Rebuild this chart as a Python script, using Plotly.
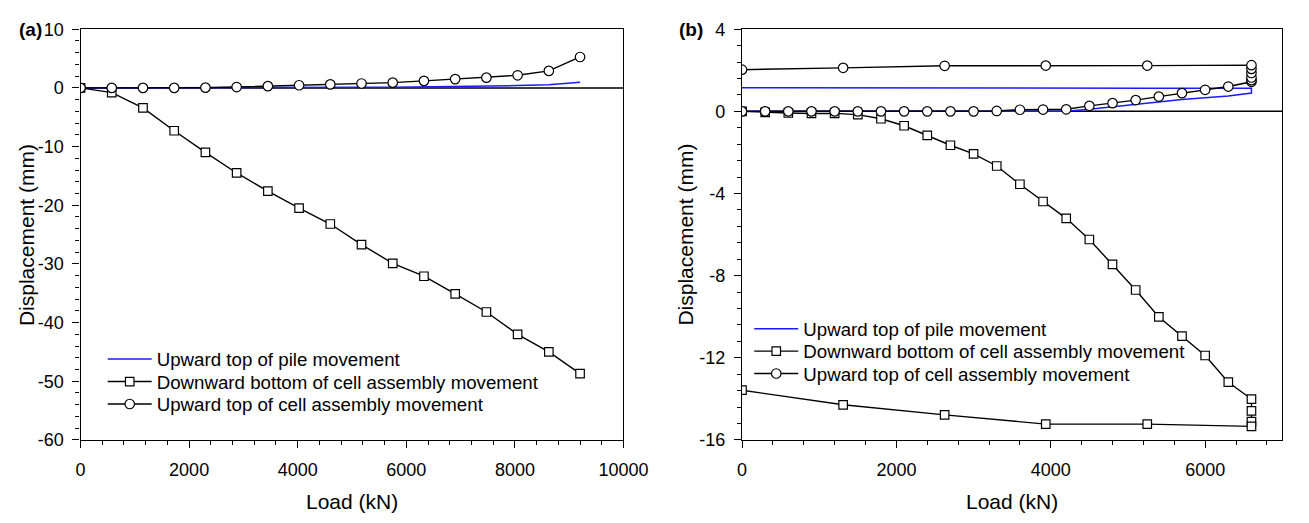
import plotly.graph_objects as go

# ---------------- Panel (a) data ----------------
load_a = [0, 575, 1150, 1725, 2300, 2875, 3450, 4025, 4600, 5175, 5750,
          6325, 6900, 7475, 8050, 8625, 9200]
pile_top_a = [0, 0, 0, 0, 0, 0.02, 0.04, 0.06, 0.08, 0.1, 0.13,
              0.17, 0.22, 0.3, 0.4, 0.55, 0.95]
cell_bottom_a = [0, -0.8, -3.4, -7.3, -11.0, -14.5, -17.6, -20.5, -23.2, -26.7, -29.9,
                 -32.1, -35.1, -38.2, -42.0, -45.0, -48.7]
cell_top_a = [0, 0, 0, 0, 0.05, 0.15, 0.3, 0.45, 0.6, 0.75, 0.9,
              1.2, 1.5, 1.75, 2.15, 2.9, 5.27]

# ---------------- Panel (b) data ----------------
load_b_pile = [0, 300, 600, 900, 1200, 1500, 1800, 2100, 2400, 2700, 3000, 3300,
               3600, 3900, 4200, 4500, 4800, 5100, 5400, 5700, 6000, 6300, 6600,
               6600, 5250, 3935, 2625, 1310, 0]
pile_top_b = [0, 0, 0, 0, 0, 0, 0, 0, 0, 0, 0, 0,
              0, 0, 0, 0.1, 0.22, 0.35, 0.47, 0.58, 0.66, 0.75, 0.89,
              1.13, 1.13, 1.14, 1.14, 1.15, 1.15]

load_b_bottom = [0, 300, 600, 900, 1200, 1500, 1800, 2100, 2400, 2700, 3000, 3300,
                 3600, 3900, 4200, 4500, 4800, 5100, 5400, 5700, 6000, 6300, 6600,
                 6600, 6600, 6600, 5250, 3935, 2625, 1310, 0]
cell_bottom_b = [0, -0.05, -0.08, -0.1, -0.1, -0.16, -0.36, -0.7, -1.17, -1.65, -2.07, -2.66,
                 -3.55, -4.39, -5.21, -6.24, -7.45, -8.7, -10.01, -10.95, -11.89, -13.19, -14.01,
                 -14.59, -15.11, -15.34, -15.23, -15.23, -14.78, -14.29, -13.58]

load_b_top = [0, 300, 600, 900, 1200, 1500, 1800, 2100, 2400, 2700, 3000, 3300,
              3600, 3900, 4200, 4500, 4800, 5100, 5400, 5700, 6000, 6300, 6600,
              6600, 6600, 6600, 6600, 6600, 5250, 3935, 2625, 1310, 0]
cell_top_b = [0, 0, 0, 0, 0, 0, 0, 0, 0, 0, 0, 0.02,
              0.08, 0.09, 0.1, 0.27, 0.4, 0.55, 0.72, 0.89, 1.05, 1.21, 1.44,
              1.52, 1.65, 1.87, 2.07, 2.25, 2.23, 2.23, 2.22, 2.12, 2.03]

names = ["Upward top of pile movement",
         "Downward bottom of cell assembly movement",
         "Upward top of cell assembly movement"]

# tick labels
xt_a = [0, 2000, 4000, 6000, 8000, 10000]
yt_a = [-60, -50, -40, -30, -20, -10, 0, 10]
xt_b = [0, 2000, 4000, 6000]
yt_b = [-16, -12, -8, -4, 0, 4]

W, H = 1309, 523
FONT = "Liberation Sans, Arial, sans-serif"
BLUE = "#1a1aff"

fig = go.Figure()

sq_marker = dict(symbol="square", size=8.5, color="white", line=dict(color="black", width=1.2))
ci_marker = dict(symbol="circle", size=9.5, color="white", line=dict(color="black", width=1.2))

series = [
    (load_a, pile_top_a, "x", "y", 0),
    (load_a, cell_bottom_a, "x", "y", 1),
    (load_a, cell_top_a, "x", "y", 2),
    (load_b_pile, pile_top_b, "x2", "y2", 0),
    (load_b_bottom, cell_bottom_b, "x2", "y2", 1),
    (load_b_top, cell_top_b, "x2", "y2", 2),
]
legend_ids = ["legend", "legend2", "legend3", "legend4", "legend5", "legend6"]
for i, (xs, ys, xa, ya, kind) in enumerate(series):
    if kind == 0:
        kw = dict(mode="lines", line=dict(color=BLUE, width=1.5))
    elif kind == 1:
        kw = dict(mode="lines+markers", line=dict(color="black", width=1.4), marker=sq_marker)
    else:
        kw = dict(mode="lines+markers", line=dict(color="black", width=1.4), marker=ci_marker)
    fig.add_trace(go.Scatter(x=xs, y=ys, name=names[kind], xaxis=xa, yaxis=ya,
                             legend=legend_ids[i], **kw))

top_px, bot_px = 20.0, 447.0
ydom = [1 - bot_px / H, 1 - top_px / H]
xdom_a = [77.3 / W, 633.0 / W]
xdom_b = [754.3 / W, 1307.3 / W]

axis_common = dict(showgrid=False, showline=True, linecolor="black", linewidth=1.2,
                   mirror=True, ticks="outside", ticklen=7, tickwidth=1.2, tickcolor="black",
                   tickfont=dict(family=FONT, size=18, color="black"),
                   zeroline=False)
minor_common = dict(ticks="outside", ticklen=4, tickwidth=1, tickcolor="black", tick0=0)


def labels(vals):
    return [str(v) for v in vals]


fig.update_layout(
    width=W, height=H,
    margin=dict(l=0, r=0, t=0, b=0),
    paper_bgcolor="white", plot_bgcolor="white",
    font=dict(family=FONT, color="black"),
    xaxis=dict(domain=xdom_a, anchor="y", range=[0, 10000], tickvals=xt_a, ticktext=labels(xt_a),
               minor=dict(dtick=400, **minor_common), ticklabelstandoff=6, **axis_common),
    yaxis=dict(domain=ydom, anchor="x", range=[-60, 10], tickvals=yt_a, ticktext=labels(yt_a),
               minor=dict(dtick=2, **minor_common), ticklabelstandoff=5, **axis_common),
    xaxis2=dict(domain=xdom_b, anchor="y2", range=[0, 7000], tickvals=xt_b, ticktext=labels(xt_b),
                minor=dict(dtick=400, **minor_common), ticklabelstandoff=6, **axis_common),
    yaxis2=dict(domain=ydom, anchor="x2", range=[-16, 4], tickvals=yt_b, ticktext=labels(yt_b),
                minor=dict(dtick=0.8, **minor_common), ticklabelstandoff=5, **axis_common),
    showlegend=True,
)

# legend rows: one legend per entry so the row spacing matches
rows_a = [363.3, 386.7, 410.0]
rows_b = [331.7, 355.0, 378.3]
leg_x = [100.0] * 3 + [761.7] * 3
leg_y = rows_a + rows_b
for lid, lx, ly in zip(legend_ids, leg_x, leg_y):
    fig.update_layout({lid: dict(x=lx / W, y=1 - ly / H, xanchor="left", yanchor="middle",
                                 bgcolor="rgba(0,0,0,0)", borderwidth=0, itemwidth=44,
                                 font=dict(family=FONT, size=18.7, color="black"))})

# zero reference lines across each panel
for xr, yr in (("x domain", "y"), ("x2 domain", "y2")):
    fig.add_shape(type="line", xref=xr, yref=yr, x0=0, x1=1, y0=0, y1=0,
                  line=dict(color="black", width=1.5), layer="below")

ymid = 1 - ((top_px + bot_px) / 2) / H
for txt, xc in (("<b>(a)</b>", 26), ("<b>(b)</b>", 702)):
    fig.add_annotation(xref="paper", yref="paper", x=xc / W, y=1 - 20 / H, text=txt,
                       showarrow=False, xanchor="center", yanchor="middle",
                       font=dict(family=FONT, size=19, color="black"))
for xc in (22, 697):
    fig.add_annotation(xref="paper", yref="paper", x=xc / W, y=ymid, text="Displacement (mm)",
                       textangle=-90, showarrow=False, xanchor="center", yanchor="middle",
                       font=dict(family=FONT, size=21, color="black"))
for xc in ((77.3 + 633) / 2, (754.3 + 1307.3) / 2):
    fig.add_annotation(xref="paper", yref="paper", x=xc / W, y=1 - 511 / H, text="Load (kN)",
                       showarrow=False, xanchor="center", yanchor="middle",
                       font=dict(family=FONT, size=21, color="black"))

fig.write_html("out.html", config={"displayModeBar": False},
               post_script="document.body.style.margin='0';")
